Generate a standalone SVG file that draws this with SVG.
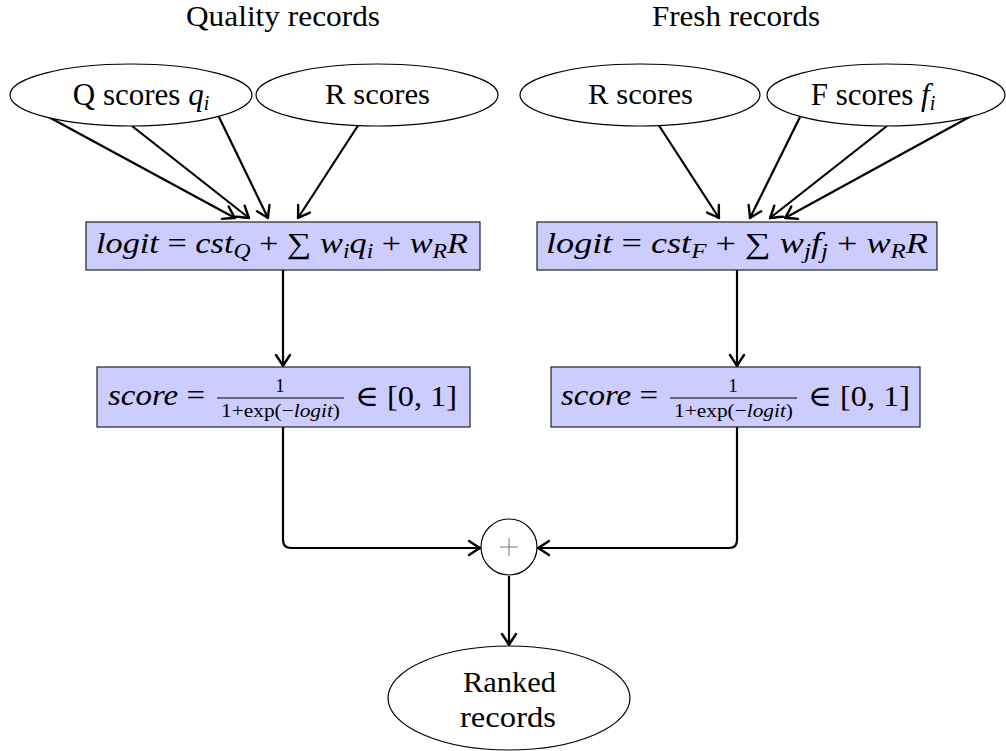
<svg xmlns="http://www.w3.org/2000/svg" width="1006" height="751" viewBox="0 0 1006 751" font-family="'Liberation Serif', 'DejaVu Serif', 'Times New Roman', serif">
  <style>
    .txt { font-family: "Liberation Serif", "DejaVu Serif", "Times New Roman", serif; fill: #000; }
    .lbl { font-size: 29px; }
    .lbl31 { font-size: 31px; }
    .math { font-size: 29px; font-style: italic; }
    .up { font-style: normal; }
    .sub { font-size: 20px; }
    .frac { font-size: 19px; }
    .ell { fill: #fff; stroke: #000; stroke-width: 1.2; }
    .box { fill: #ccccff; stroke: #222; stroke-width: 1.2; }
    .edge { fill: none; stroke: #000; stroke-width: 2.2; marker-end: url(#arrow); }
  </style>
  <defs>
    <marker id="arrow" markerUnits="userSpaceOnUse" viewBox="-12 -8 14 16" markerWidth="14" markerHeight="16" refX="0" refY="0" orient="auto" overflow="visible">
      <path d="M -11,-7 Q -3.5,-2 0,0 Q -3.5,2 -11,7" fill="none" stroke="#000" stroke-width="2.4" stroke-linecap="round" stroke-linejoin="round"/>
    </marker>
  </defs>

  <rect width="1006" height="751" fill="#fff"/>

  <!-- column titles -->
  <text class="txt lbl" x="186" y="26" textLength="194" lengthAdjust="spacingAndGlyphs">Quality records</text>
  <text class="txt lbl" x="652" y="26" textLength="168" lengthAdjust="spacingAndGlyphs">Fresh records</text>

  <!-- connectors -->
  <g id="connectors">
    <path class="edge" d="M 45,115 L 235,218"/>
    <path class="edge" d="M 132,126 L 249,218"/>
    <path class="edge" d="M 218,115 L 268,218"/>
    <path class="edge" d="M 359,124 L 298,218"/>

    <path class="edge" d="M 658,124 L 719,218"/>
    <path class="edge" d="M 801,115 L 750,218"/>
    <path class="edge" d="M 887,126 L 770,218"/>
    <path class="edge" d="M 973,115 L 785,218"/>

    <path class="edge" d="M 283,270 L 283,366"/>
    <path class="edge" d="M 737,270 L 737,366"/>

    <path class="edge" d="M 283,427 L 283,540 Q 283,548 291,548 L 480,548"/>
    <path class="edge" d="M 737,427 L 737,540 Q 737,548 729,548 L 538,548"/>

    <path class="edge" d="M 509,576 L 509,645"/>
  </g>

  <!-- input ellipses -->
  <g id="q-scores">
    <ellipse class="ell" cx="131" cy="95" rx="121" ry="31"/>
    <text class="txt lbl31" x="141" y="105" text-anchor="middle">Q scores <tspan font-style="italic">q</tspan><tspan class="sub" font-style="italic" dy="5">i</tspan></text>
  </g>
  <g id="r-scores-q">
    <ellipse class="ell" cx="377" cy="95" rx="121" ry="31"/>
    <text class="txt lbl" x="325" y="104" textLength="105" lengthAdjust="spacingAndGlyphs">R scores</text>
  </g>
  <g id="r-scores-f">
    <ellipse class="ell" cx="640" cy="95" rx="120" ry="31"/>
    <text class="txt lbl" x="588" y="104" textLength="105" lengthAdjust="spacingAndGlyphs">R scores</text>
  </g>
  <g id="f-scores">
    <ellipse class="ell" cx="886" cy="95" rx="119" ry="31"/>
    <text class="txt lbl31" x="873" y="105" text-anchor="middle">F scores <tspan font-style="italic">f</tspan><tspan class="sub" font-style="italic" dy="5">i</tspan></text>
  </g>

  <!-- logit boxes -->
  <g id="logit-q">
    <rect class="box" x="86" y="222" width="394" height="48"/>
    <text class="txt math" x="96" y="253" textLength="372" lengthAdjust="spacingAndGlyphs">logit <tspan class="up">=</tspan> cst<tspan class="sub" dy="5">Q</tspan><tspan dy="-5" class="up"> + ∑ </tspan>w<tspan class="sub" dy="5">i</tspan><tspan dy="-5">q</tspan><tspan class="sub" dy="5">i</tspan><tspan dy="-5" class="up"> + </tspan>w<tspan class="sub" dy="5">R</tspan><tspan dy="-5">R</tspan></text>
  </g>
  <g id="logit-f">
    <rect class="box" x="537" y="222" width="400" height="48"/>
    <text class="txt math" x="546" y="253" textLength="382" lengthAdjust="spacingAndGlyphs">logit <tspan class="up">=</tspan> cst<tspan class="sub" dy="5">F</tspan><tspan dy="-5" class="up"> + ∑ </tspan>w<tspan class="sub" dy="5">j</tspan><tspan dy="-5">f</tspan><tspan class="sub" dy="5">j</tspan><tspan dy="-5" class="up"> + </tspan>w<tspan class="sub" dy="5">R</tspan><tspan dy="-5">R</tspan></text>
  </g>

  <!-- score boxes -->
  <g id="score-q">
    <rect class="box" x="97" y="367" width="373" height="60"/>
    <text class="txt math" x="108" y="405" textLength="97" lengthAdjust="spacingAndGlyphs">score <tspan class="up">=</tspan></text>
    <line x1="217" y1="398" x2="344" y2="398" stroke="#000" stroke-width="1"/>
    <text class="txt frac" x="280" y="392" text-anchor="middle">1</text>
    <text class="txt frac" x="221" y="417" textLength="119" lengthAdjust="spacingAndGlyphs">1+exp(−<tspan font-style="italic">logit</tspan>)</text>
    <text class="txt lbl" x="355" y="406" textLength="102" lengthAdjust="spacingAndGlyphs">∈ [0, 1]</text>
  </g>
  <g id="score-f">
    <rect class="box" x="551" y="367" width="369" height="60"/>
    <text class="txt math" x="561" y="405" textLength="97" lengthAdjust="spacingAndGlyphs">score <tspan class="up">=</tspan></text>
    <line x1="670" y1="398" x2="797" y2="398" stroke="#000" stroke-width="1"/>
    <text class="txt frac" x="733" y="392" text-anchor="middle">1</text>
    <text class="txt frac" x="674" y="417" textLength="119" lengthAdjust="spacingAndGlyphs">1+exp(−<tspan font-style="italic">logit</tspan>)</text>
    <text class="txt lbl" x="808" y="406" textLength="102" lengthAdjust="spacingAndGlyphs">∈ [0, 1]</text>
  </g>

  <!-- sum node -->
  <g id="sum">
    <circle cx="509" cy="547" r="28" fill="#fff" stroke="#000" stroke-width="1.2"/>
    <path d="M 500,547 L 518,547 M 509,538 L 509,556" stroke="#777" stroke-width="1"/>
  </g>

  <!-- output -->
  <g id="ranked">
    <ellipse class="ell" cx="509" cy="698" rx="121" ry="52"/>
    <text class="txt lbl" x="463" y="692" textLength="93" lengthAdjust="spacingAndGlyphs">Ranked</text>
    <text class="txt lbl" x="460" y="727" textLength="96" lengthAdjust="spacingAndGlyphs">records</text>
  </g>
</svg>
